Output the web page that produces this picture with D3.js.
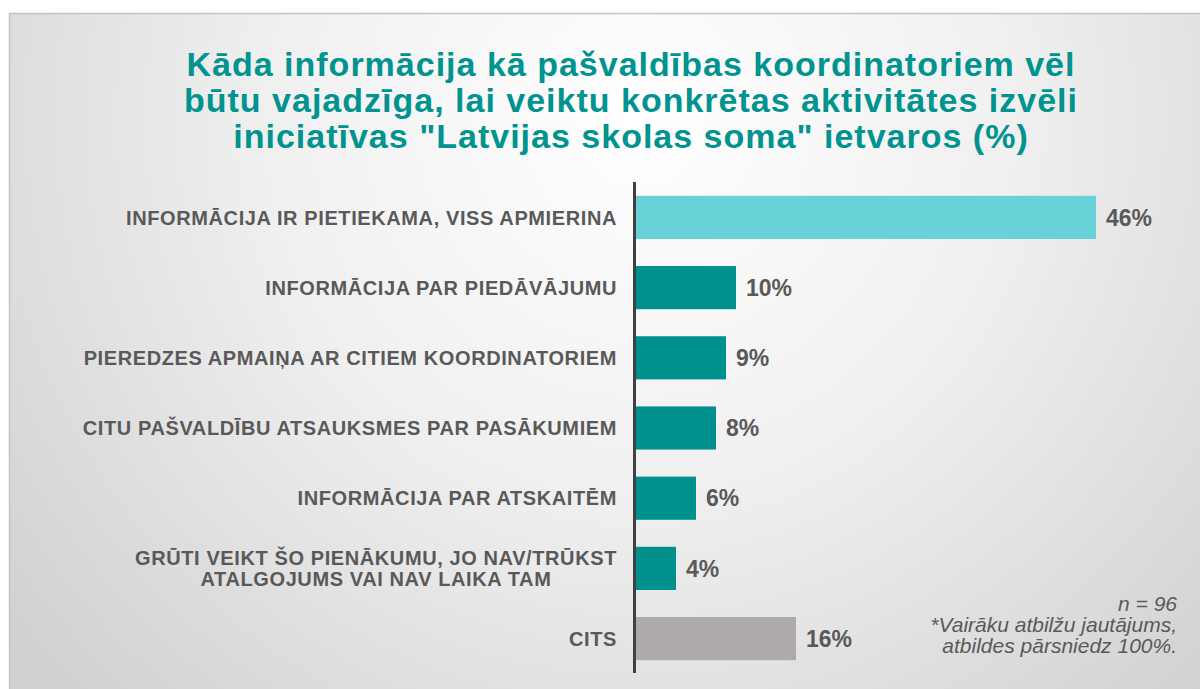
<!DOCTYPE html>
<meta charset="utf-8">
<style>
  body { margin: 0; background: #fff; }
  svg { display: block; font-family: "Liberation Sans", Arial, sans-serif; }
</style>
<body>
<svg width="1200" height="689"></svg>
<script src="https://d3js.org/d3.v7.min.js"></script>
<script>

// chart data
var categories = [
  ["INFORMĀCIJA IR PIETIEKAMA, VISS APMIERINA"],
  ["INFORMĀCIJA PAR PIEDĀVĀJUMU"],
  ["PIEREDZES APMAIŅA AR CITIEM KOORDINATORIEM"],
  ["CITU PAŠVALDĪBU ATSAUKSMES PAR PASĀKUMIEM"],
  ["INFORMĀCIJA PAR ATSKAITĒM"],
  ["GRŪTI VEIKT ŠO PIENĀKUMU, JO NAV/TRŪKST", "ATALGOJUMS VAI NAV LAIKA TAM"],
  ["CITS"]
];
var values = [46, 10, 9, 8, 6, 4, 16];
var barColors = ["#69d1d8", "#00918e", "#00918e", "#00918e", "#00918e", "#00918e", "#aeaaa9"];

var titleLines = [
  "Kāda informācija kā pašvaldības koordinatoriem vēl",
  "būtu vajadzīga, lai veiktu konkrētas aktivitātes izvēli",
  "iniciatīvas \"Latvijas skolas soma\" ietvaros (%)"
];
var notes = ["n = 96", "*Vairāku atbilžu jautājums,", "atbildes pārsniedz 100%."];

var svg = d3.select("svg"),
    width = +svg.attr("width"),
    height = +svg.attr("height");

// background panel with a soft radial gradient
var defs = svg.append("defs");
var grad = defs.append("radialGradient")
    .attr("id", "bg")
    .attr("gradientUnits", "userSpaceOnUse")
    .attr("cx", 640).attr("cy", 120).attr("r", 820);
grad.append("stop").attr("offset", "0%").attr("stop-color", "#ffffff");
grad.append("stop").attr("offset", "45%").attr("stop-color", "#f0f0f0");
grad.append("stop").attr("offset", "100%").attr("stop-color", "#d0d0d0");

svg.append("rect")
    .attr("x", 9.5).attr("y", 13.5)
    .attr("width", width).attr("height", height)
    .attr("fill", "url(#bg)")
    .attr("stroke", "#c4c4c4")
    .attr("stroke-width", 1.5);

// title
svg.append("g").selectAll("text")
  .data(titleLines)
  .enter().append("text")
    .attr("x", 631)
    .attr("y", function(d, i) { return 76 + i * 36; })
    .attr("text-anchor", "middle")
    .attr("fill", "#00938f")
    .attr("font-size", 34)
    .attr("letter-spacing", 1)
    .attr("font-weight", "bold")
    .text(function(d) { return d; });

// scales
var x0 = 636;
var x = d3.scaleLinear().domain([0, 10]).range([x0, x0 + 100]);
var y = d3.scaleBand()
    .domain(d3.range(values.length))
    .range([182.5, 673.5])
    .paddingInner(0.385)
    .paddingOuter(0.19);

// bars
svg.append("g").selectAll("rect")
  .data(values)
  .enter().append("rect")
    .attr("x", x(0))
    .attr("y", function(d, i) { return y(i); })
    .attr("width", function(d) { return x(d) - x(0); })
    .attr("height", y.bandwidth())
    .attr("fill", function(d, i) { return barColors[i]; });

// value labels
svg.append("g").selectAll("text")
  .data(values)
  .enter().append("text")
    .attr("x", function(d) { return x(d) + 10; })
    .attr("y", function(d, i) { return y(i) + y.bandwidth() / 2; })
    .attr("dy", "0.36em")
    .attr("fill", "#595959")
    .attr("font-size", 23)
    .attr("font-weight", "bold")
    .text(function(d) { return d + "%"; });

// category labels, multi-line ones are centred as a block
var labels = svg.append("g").selectAll("text")
  .data(categories)
  .enter().append("text")
    .attr("fill", "#595959")
    .attr("font-size", 20)
    .attr("letter-spacing", 0.6)
    .attr("font-weight", "bold")
    .attr("text-anchor", function(d) { return d.length > 1 ? "middle" : "end"; })
    .attr("x", function(d) { return d.length > 1 ? 376 : 617; })
    .attr("y", function(d, i) { return y(i) + y.bandwidth() / 2 - (d.length - 1) * 10.5; });

labels.selectAll("tspan")
  .data(function(d) { return d; })
  .enter().append("tspan")
    .attr("x", function() { return d3.select(this.parentNode).attr("x"); })
    .attr("dy", function(d, i) { return i === 0 ? "0.36em" : 21; })
    .text(function(d) { return d; });

// vertical axis line
svg.append("line")
    .attr("x1", 634.5).attr("x2", 634.5)
    .attr("y1", 182).attr("y2", 673)
    .attr("stroke", "#404040")
    .attr("stroke-width", 3);

// note in the bottom right corner
svg.append("g").selectAll("text")
  .data(notes)
  .enter().append("text")
    .attr("x", 1177)
    .attr("y", function(d, i) { return 611 + i * 21; })
    .attr("text-anchor", "end")
    .attr("fill", "#595959")
    .attr("font-size", 21)
    .attr("font-style", "italic")
    .text(function(d) { return d; });

</script>
</body>
